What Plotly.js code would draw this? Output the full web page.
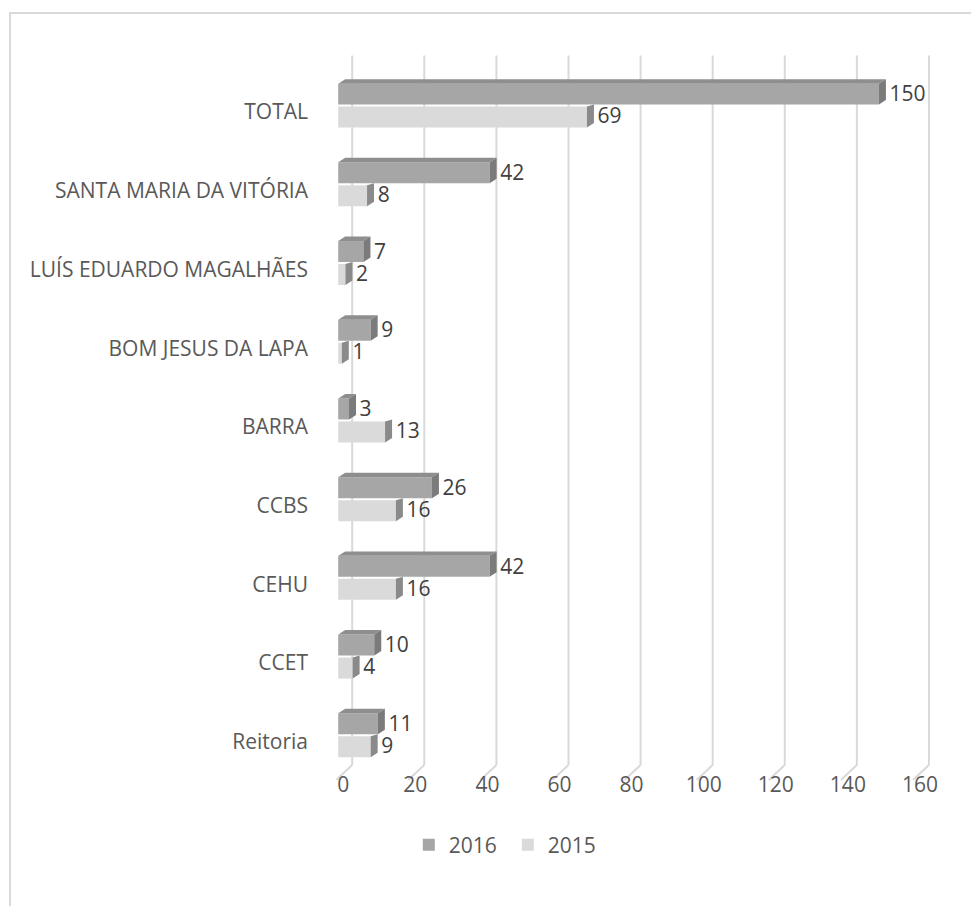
<!DOCTYPE html>
<html>
<head>
<meta charset="utf-8">
<script src="https://cdn.plot.ly/plotly-3.0.1.min.js"></script>
<style>
  html, body { margin: 0; padding: 0; background: #ffffff; }
  #wrap { position: relative; width: 971px; height: 906px; overflow: hidden; }
  #frame { position: absolute; left: 9px; top: 12px; width: 980px; height: 920px;
           border-left: 2px solid #d9d9d9; border-top: 2px solid #d9d9d9; box-sizing: border-box; }
  #chart { position: absolute; left: 0; top: 0; width: 971px; height: 906px; }
</style>
</head>
<body>
<div id="wrap">
  <div id="frame"></div>
  <div id="chart"></div>
</div>
<script>
// ---- data ----
const categories = ['TOTAL', 'SANTA MARIA DA VITÓRIA', 'LUÍS EDUARDO MAGALHÃES', 'BOM JESUS DA LAPA',
                    'BARRA', 'CCBS', 'CEHU', 'CCET', 'Reitoria'];
const values2016 = [150, 42, 7, 9, 3, 26, 42, 10, 11];
const values2015 = [69, 8, 2, 1, 13, 16, 16, 4, 9];
const seriesNames = ['2016', '2015'];
const xTicks = [0, 20, 40, 60, 80, 100, 120, 140, 160];

// ---- styling constants (pixel geometry of the pseudo-3D look) ----
const PX_Y = 78.75;           // px per category
const PX_X = 3.607;           // px per value unit
const C0 = 103.75;            // px centre of first category
const uy = px => px / PX_Y;
const ux = px => px / PX_X;
const DX = ux(7);
const BACK = ux(14), DIAG = ux(16);
const X_MIN = -2, X_MAX = 165, X0PX = 338;
const FONT = 'Open Sans, Noto Sans, sans-serif';
const FS = 21;

const pos = categories.map((_, i) => i);

// front faces (real bars)
const front2016 = {
  type: 'bar', orientation: 'h', name: seriesNames[0],
  x: values2016, y: pos, offset: uy(-20.5), width: uy(21),
  marker: { color: '#a6a6a6', line: { width: 0 } }, hoverinfo: 'x+name'
};
const front2015 = {
  type: 'bar', orientation: 'h', name: seriesNames[1],
  x: values2015, y: pos, offset: uy(2.5), width: uy(21),
  marker: { color: '#dadada', line: { width: 0 } }, hoverinfo: 'x+name'
};

function poly(vals, build) {
  const xs = [], ys = [];
  vals.forEach((v, i) => {
    build(v, i).forEach(p => { xs.push(p[0]); ys.push(p[1]); });
    xs.push(null); ys.push(null);
  });
  return { xs, ys };
}
function face(pp, color) {
  return { type: 'scatter', mode: 'lines', x: pp.xs, y: pp.ys, fill: 'toself',
           fillcolor: color, line: { width: 0, color: color }, hoverinfo: 'skip', showlegend: false };
}
const top2016 = face(poly(values2016, (v, c) => [
  [0, c + uy(-20.5)], [v, c + uy(-20.5)], [v + DX, c + uy(-25)], [DX, c + uy(-25)]
]), '#8e8e8e');
const side2016 = face(poly(values2016, (v, c) => [
  [v, c + uy(-20.5)], [v + DX, c + uy(-25)], [v + DX, c + uy(-4)], [v, c + uy(0.5)]
]), '#7b7b7b');
const side2015 = face(poly(values2015, (v, c) => [
  [v, c + uy(2.5)], [v + DX, c + uy(0.5)], [v + DX, c + uy(19)], [v, c + uy(23.5)]
]), '#8a8a8a');

const lab2016 = {
  type: 'scatter', mode: 'text', x: values2016.map(v => v + DX + 1), y: pos.map(c => c + uy(-8)),
  text: values2016.map(String), textposition: 'middle right', cliponaxis: false,
  textfont: { family: FONT, size: FS, color: '#404040' }, hoverinfo: 'skip', showlegend: false
};
const lab2015 = {
  type: 'scatter', mode: 'text', x: values2015.map(v => v + DX + 1), y: pos.map(c => c + uy(14)),
  text: values2015.map(String), textposition: 'middle right', cliponaxis: false,
  textfont: { family: FONT, size: FS, color: '#404040' }, hoverinfo: 'skip', showlegend: false
};

// gridlines of the back wall + floor diagonals, from the tick values
const gridTop = uy(55 - C0), gridBottom = uy(765 - C0), floorFront = uy(780 - C0);
const shapes = [];
xTicks.forEach(t => {
  shapes.push({ type: 'line', layer: 'below', xref: 'x', yref: 'y',
    x0: t + BACK, x1: t + BACK, y0: gridTop, y1: gridBottom, line: { color: '#d9d9d9', width: 2 } });
  shapes.push({ type: 'line', layer: 'below', xref: 'x', yref: 'y',
    x0: t + BACK, x1: t + BACK - DIAG, y0: gridBottom, y1: floorFront, line: { color: '#d9d9d9', width: 2 } });
});

const TOP_PX = 44.6, BOTTOM_PX = 782;
const yBottom = uy(BOTTOM_PX - C0), yTop = uy(TOP_PX - C0);
const leftPx = X0PX + X_MIN * PX_X, rightPx = X0PX + X_MAX * PX_X;
const layout = {
  width: 971, height: 906, autosize: false,
  margin: { l: leftPx, r: 971 - rightPx, t: TOP_PX, b: 906 - BOTTOM_PX, pad: 0 },
  paper_bgcolor: 'rgba(0,0,0,0)', plot_bgcolor: 'rgba(0,0,0,0)',
  font: { family: FONT, size: FS, color: '#595959' },
  barmode: 'overlay',
  showlegend: true,
  legend: { orientation: 'h', xref: 'container', yref: 'container', x: 0.523, xanchor: 'center',
            y: 1 - 845 / 906, yanchor: 'middle', font: { family: FONT, size: FS, color: '#595959' },
            traceorder: 'normal', entrywidth: 54 },
  xaxis: { range: [X_MIN, X_MAX], tickvals: xTicks, ticktext: xTicks.map(String), showgrid: false,
           zeroline: false, showline: false, ticks: '', ticklabelshift: 5, ticklabelstandoff: -12,
           tickfont: { family: FONT, size: FS, color: '#595959' }, fixedrange: true },
  yaxis: { range: [yBottom, yTop], tickvals: pos, ticktext: categories, showgrid: false,
           zeroline: false, showline: false, ticks: '', ticklabelstandoff: 22, ticklabelshift: -8,
           tickfont: { family: FONT, size: FS, color: '#595959' }, fixedrange: true },
  shapes: shapes
};

Plotly.newPlot('chart', [front2016, front2015, side2015, top2016, side2016, lab2016, lab2015], layout,
  { displayModeBar: false, staticPlot: true });
</script>
</body>
</html>
